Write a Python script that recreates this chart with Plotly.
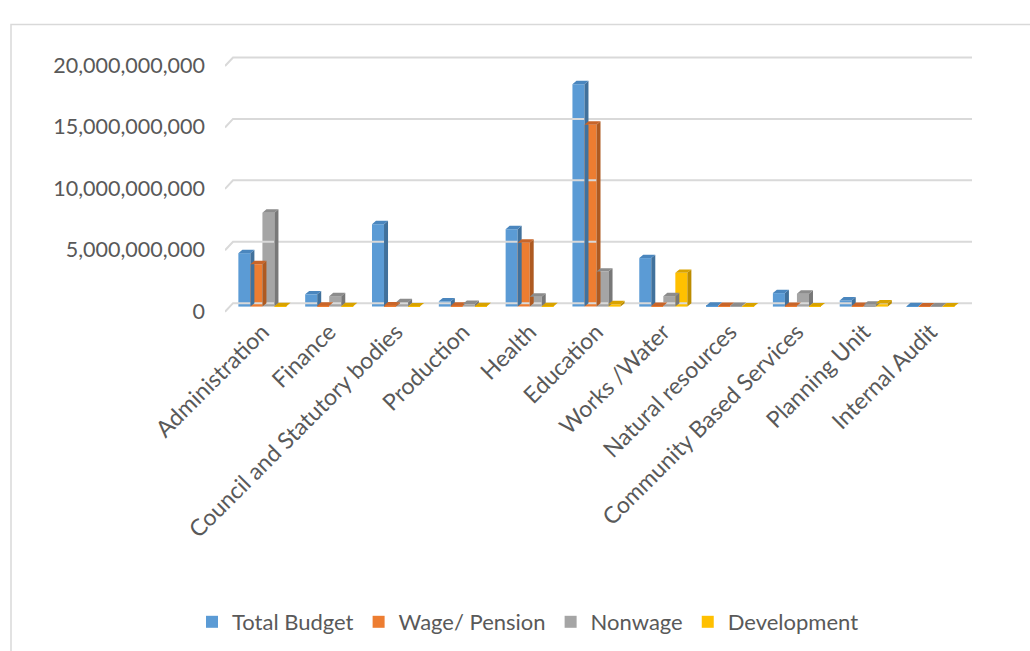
import plotly.graph_objects as go

# Budget by department (values in UGX)
categories = ["Administration", "Finance", "Council and Statutory bodies", "Production",
              "Health", "Education", "Works /Water", "Natural resources",
              "Community Based Services", "Planning Unit", "Internal Audit"]
total_budget = [4.35e9, 1.0e9, 6.7e9, 0.43e9, 6.3e9, 18.1e9, 3.95e9, 0.08e9, 1.1e9, 0.5e9, 0.03e9]
wage_pension = [3.45e9, 0.08e9, 0.1e9, 0.08e9, 5.2e9, 14.8e9, 0.05e9, 0.05e9, 0.06e9, 0.05e9, 0.02e9]
nonwage = [7.65e9, 0.85e9, 0.35e9, 0.22e9, 0.8e9, 2.85e9, 0.85e9, 0.05e9, 1.05e9, 0.15e9, 0.02e9]
development = [0.03e9, 0.03e9, 0.02e9, 0.03e9, 0.03e9, 0.2e9, 2.75e9, 0.02e9, 0.02e9, 0.25e9, 0.02e9]
y_ticks = [0, 5e9, 10e9, 15e9, 20e9]

series = [
    ("Total Budget", total_budget, "#5B9BD5", "#41719C", "#4A86BE"),
    ("Wage/ Pension", wage_pension, "#ED7D31", "#AE5A21", "#C8652A"),
    ("Nonwage", nonwage, "#A5A5A5", "#787878", "#8C8C8C"),
    ("Development", development, "#FFC000", "#BC8C00", "#D9A300"),
]

W, H = 1030, 651
FONT = "Lato"
TXT = "#595959"

# layout geometry (pixels)
PLOT_L, PLOT_R = 225, 972
ZERO_PX, PX_PER_BN = 303.0, 12.3
Y_MIN, Y_MAX = -0.8e9, 20.2e9
X_MIN, X_MAX = -0.56, 10.62
top_px = ZERO_PX - Y_MAX / 1e9 * PX_PER_BN
bot_px = ZERO_PX - Y_MIN / 1e9 * PX_PER_BN

# pseudo-3D depth of bars and back wall (data units)
BAR_W = 0.18
DXB, DYB = 0.06, 0.28e9
DXW, DYW = 0.12, 0.7e9

fig = go.Figure()

# back wall gridlines with the slanted side-wall segment
gx, gy = [], []
for g in y_ticks:
    gx += [X_MIN, X_MIN + DXW, X_MAX, None]
    gy += [g - DYW, g, g, None]
fig.add_trace(go.Scatter(x=gx, y=gy, mode="lines", line=dict(color="#D9D9D9", width=2),
                         hoverinfo="skip", showlegend=False))

for k, (name, vals, front, side, top) in enumerate(series):
    off = -0.36 + k * BAR_W
    xs = [i + off + BAR_W / 2 for i in range(len(vals))]
    sx, sy, tx, ty = [], [], [], []
    for i, v in enumerate(vals):
        x0 = i + off
        x1 = x0 + BAR_W
        b = -DYB
        t = v - DYB
        sx += [x1, x1 + DXB, x1 + DXB, x1, x1, None]
        sy += [b, b + DYB, v, t, b, None]
        tx += [x0, x0 + DXB, x1 + DXB, x1, x0, None]
        ty += [t, v, v, t, t, None]
    fig.add_trace(go.Scatter(x=sx, y=sy, mode="lines", fill="toself", fillcolor=side,
                             line=dict(width=0, color=side), hoverinfo="skip", showlegend=False))
    fig.add_trace(go.Scatter(x=tx, y=ty, mode="lines", fill="toself", fillcolor=top,
                             line=dict(width=0, color=top), hoverinfo="skip", showlegend=False))
    fig.add_trace(go.Bar(x=xs, y=vals, base=-DYB, width=BAR_W, name=name,
                         marker=dict(color=front, line=dict(width=0))))

px_to_paper_x = lambda p: (p - PLOT_L) / (PLOT_R - PLOT_L)
px_to_paper_y = lambda p: (bot_px - p) / (bot_px - top_px)

fig.update_layout(
    width=W, height=H,
    margin=dict(l=PLOT_L, r=W - PLOT_R, t=top_px, b=H - bot_px, pad=0),
    paper_bgcolor="white", plot_bgcolor="white",
    barmode="overlay",
    font=dict(family=FONT, color=TXT, size=21),
    showlegend=True,
    legend=dict(orientation="h", x=px_to_paper_x(528), xanchor="center",
                yref="container", y=(H - 622) / H, yanchor="middle",
                font=dict(size=22, color=TXT), traceorder="normal"),
    xaxis=dict(range=[X_MIN, X_MAX], tickmode="array", tickvals=list(range(len(categories))),
               ticktext=categories, tickangle=-45, showgrid=False, zeroline=False,
               showline=False, ticks="", tickfont=dict(size=23, color=TXT)),
    yaxis=dict(range=[Y_MIN, Y_MAX], tickmode="array", tickvals=y_ticks,
               ticktext=[f"{int(v):,}" for v in y_ticks], showgrid=False, zeroline=False,
               showline=False, ticks="", tickfont=dict(size=21.5, color=TXT),
               ticklabelshift=8, ticklabelstandoff=19),
    shapes=[dict(type="rect", xref="paper", yref="paper",
                 x0=px_to_paper_x(11), x1=px_to_paper_x(W + 10),
                 y0=px_to_paper_y(H + 10), y1=px_to_paper_y(24),
                 line=dict(color="#D9D9D9", width=1.5), fillcolor="rgba(0,0,0,0)",
                 layer="below")],
)

fig.write_html("out.html")
